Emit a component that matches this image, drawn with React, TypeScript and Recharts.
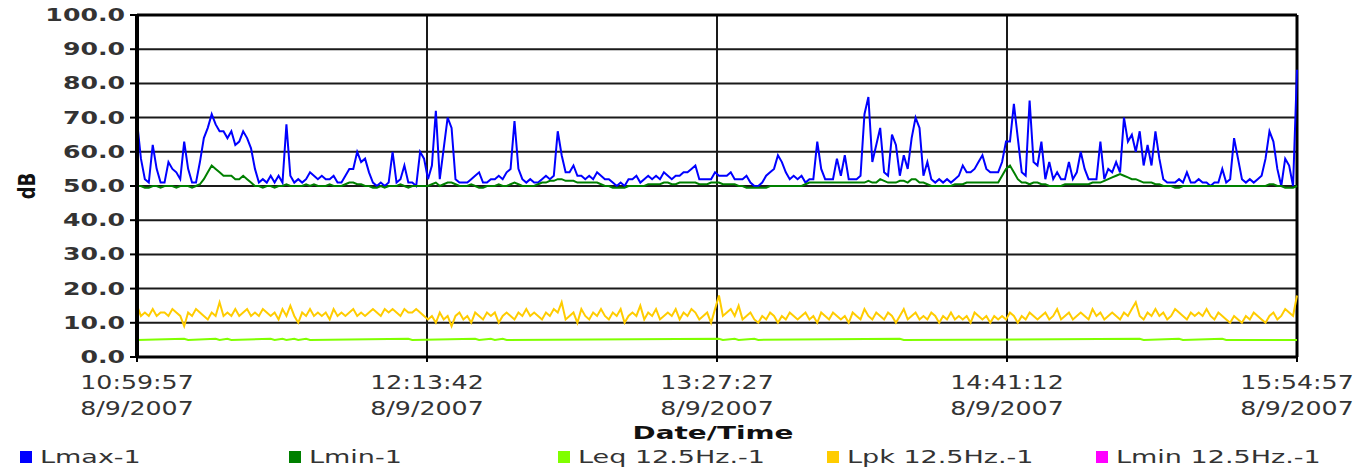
import React from "react";
import {
  LineChart,
  Line,
  XAxis,
  YAxis,
  CartesianGrid,
  Legend,
  ReferenceLine,
} from "recharts";

// time axis is in minutes from 10:59:57
const timeTicks = [0, 73.75, 147.5, 221.25, 295];
const timeLabels = ["10:59:57", "12:13:42", "13:27:27", "14:41:12", "15:54:57"];
const dateLabel = "8/9/2007";
const dbTicks = [0, 10, 20, 30, 40, 50, 60, 70, 80, 90, 100];

// Lmax-1, one value per minute
const lmax = [
  69, 58, 52, 51, 62, 55, 51, 51, 57, 55,
  54, 52, 63, 55, 51, 51, 57, 64, 67, 71,
  68, 66, 66, 64, 66, 62, 63, 66, 64, 61,
  55, 51, 52, 51, 53, 51, 53, 51, 68, 53,
  51, 52, 51, 52, 54, 53, 52, 53, 52, 52,
  53, 51, 51, 53, 55, 55, 60, 57, 58, 54,
  51, 50, 51, 50, 51, 60, 51, 52, 56, 51,
  51, 50, 60, 58,
  52, 56, 72, 52, 61, 70, 67, 52, 51, 51,
  51, 52, 53, 54, 51, 51, 52, 52, 53, 52,
  54, 55, 69, 55, 52, 51, 52, 51, 51, 52,
  53, 52, 53, 66, 59, 54, 54, 56, 53, 53,
  52, 53, 52, 54, 53, 52, 52, 51, 50, 51,
  50, 52, 52, 53, 51, 52, 53, 52, 53, 52,
  54, 53, 52, 53, 53, 54, 54, 55, 56, 52,
  52, 52, 52, 54,
  53, 53, 53, 54, 52, 52, 52, 53, 51, 50,
  50, 51, 53, 54, 55, 59, 57, 54, 52, 53,
  52, 53, 51, 52, 52, 63, 55, 52, 52, 52,
  58, 53, 59, 52, 52, 52, 53, 71, 76, 57,
  62, 67, 54, 53, 65, 62, 53, 59, 55, 64,
  70, 67, 53, 57, 52, 51, 52, 51, 52, 51,
  52, 53, 56, 54, 54, 55, 57, 59, 55, 54,
  54, 54, 57, 63,
  63, 74, 64, 54, 53, 75, 57, 56, 63, 52,
  57, 52, 54, 52, 52, 57, 52, 54, 60, 55,
  52, 52, 52, 63, 52, 55, 54, 57, 54, 70,
  63, 65, 60, 66, 56, 62, 56, 66, 58, 52,
  51, 51, 51, 52, 51, 54, 51, 51, 52, 51,
  51, 50, 51, 51, 55, 51, 52, 64, 58, 52,
  51, 52, 51, 52, 53, 58, 66, 63, 55, 50,
  58, 56, 50, 84,
];

// Lmin-1
const lmin = [
  50, 50, 49.5, 49.5, 50, 50, 49.5, 50, 50, 50,
  49.5, 50, 50, 50, 49.5, 50, 50.5, 52, 54, 56,
  55, 54, 53, 53, 53, 52, 52, 53, 52, 51,
  50, 50, 49.5, 50, 50, 49.5, 50, 50, 50.5, 50,
  50, 50, 50, 50.5, 50, 50.5, 50, 50, 50, 50.5,
  50, 50, 50, 50.5, 51, 51, 50.5, 50.5, 50, 50,
  49.5, 49.5, 50, 49.5, 50, 50, 50, 50.5, 50, 49.5,
  50, 50, 50, 50, 50, 50.5, 51, 50, 50.5, 51,
  51, 50.5, 50, 50, 50, 50.5, 50, 49.5, 49.5, 50,
  50, 50, 50.5, 50, 50, 50.5, 51, 50.5, 50, 50,
  50, 50, 50.5, 51, 51, 51.5, 51.5, 52, 52, 51.5,
  51.5, 51.5, 51, 51, 51, 51, 51, 51, 50.5, 50,
  50, 49.5, 49.5, 49.5, 49.5, 50, 50, 50, 50, 50,
  50.5, 50.5, 50.5, 50.5, 51, 51, 50.5, 50.5, 51, 51,
  51, 51, 51, 50.5, 50.5, 50.5, 51, 51, 51, 50.5,
  50.5, 50.5, 50.5, 50, 50, 49.5, 49.5, 49.5, 49.5, 49.5,
  49.5, 50, 50, 50, 50, 50, 50, 50, 50, 50,
  50.5, 51, 51, 51, 51, 51, 51, 51, 51, 51,
  51, 51, 51, 51, 51, 51, 51.5, 51, 51, 52,
  51.5, 51, 51, 51, 51.5, 51.5, 51, 52, 52, 51,
  51, 50.5, 50, 50, 50, 50, 50, 50, 50.5, 50.5,
  50.5, 51, 51, 51, 51, 51, 51, 51, 51, 51,
  53, 55, 56, 54, 52, 51, 51, 50.5, 51, 51,
  50.5, 50.5, 50, 50, 50, 50, 50.5, 50.5, 50.5, 50.5,
  50.5, 50.5, 50.5, 51, 51, 51, 51.5, 52, 52.5, 53,
  53.5, 53, 52.5, 52, 52, 51.5, 51, 51, 51, 50.5,
  50.5, 50, 50, 50, 49.5, 49.5, 50, 50, 50, 50,
  50, 50, 50, 50, 50, 50, 50, 50, 50, 50,
  50, 50, 50, 50, 50, 50, 50, 50, 50.5, 50.5,
  50, 50, 49.5, 49.5, 49.5, 50,
];

// Lpk 12.5Hz.-1
const lpk = [
  15, 12, 13, 12, 14, 12, 13, 13, 12, 14,
  13, 12, 9, 13, 12, 14, 13, 12, 11, 13,
  12, 16, 12, 13, 12, 14, 12, 13, 14, 12,
  13, 12, 14, 13, 12, 13, 11, 14, 12, 15,
  12, 10, 13, 12, 14, 12, 13, 12, 13, 11,
  14, 12, 13, 12, 13, 14, 12, 13, 12, 13,
  14, 13, 12, 14, 13, 14, 13, 12, 14, 13,
  13, 14, 13, 12, 11, 12, 10, 13, 11, 12,
  9, 12, 13, 11, 12, 10, 13, 12, 11, 13,
  12, 13, 10, 12, 13, 12, 11, 13, 12, 14,
  12, 13, 12, 11, 13, 12, 14, 13, 16, 11,
  12, 13, 10, 14, 12, 11, 13, 12, 14, 12,
  11, 13, 12, 14, 10, 12, 13, 12, 15, 11,
  13, 12, 14, 11, 12, 13, 12, 14, 11, 13,
  12, 14, 13, 11, 12, 13, 10, 14, 18, 12,
  13, 14, 12, 15, 11, 12, 13, 11, 10, 12,
  11, 13, 12, 10, 12, 11, 13, 12, 11, 12,
  13, 11, 12, 10, 13, 12, 11, 13, 12, 11,
  12, 10, 13, 12, 11, 14, 12, 11, 13, 12,
  11, 13, 12, 10, 12, 14, 11, 12, 13, 11,
  12, 11, 13, 12, 10, 12, 11, 13, 11, 12,
  11, 12, 10, 13, 12, 11, 12, 10, 12, 11,
  12, 11, 13, 12, 10, 12, 11, 13, 12, 11,
  12, 13, 11, 12, 14, 11, 12, 13, 11, 12,
  13, 12, 11, 14, 12, 13, 11, 12, 13, 12,
  11, 13, 12, 14, 16, 12, 11, 13, 12, 14,
  12, 13, 11, 12, 14, 13, 12, 11, 13, 12,
  13, 12, 14, 12, 11, 13, 12, 11, 10, 12,
  11, 10, 12, 11, 13, 12, 11, 10, 12, 13,
  11, 12, 14, 13, 12, 18,
];

// Leq 12.5Hz.-1 : [minute, dB], flat line with a few small bumps
const leqPoints = [
  [0, 5], [12, 5.3], [13, 5], [20, 5.3], [21, 5], [23, 5.3], [24, 5],
  [34, 5.3], [35, 5], [37, 5.3], [38, 5], [40, 5.3], [41, 5], [43, 5.3],
  [44, 5], [69, 5.3], [70, 5], [86, 5.3], [87, 5], [90, 5.3], [91, 5],
  [93, 5.3], [94, 5], [148, 5.3], [149, 5], [152, 5.3], [153, 5],
  [157, 5.3], [158, 5], [194, 5.3], [195, 5], [255, 5.3], [256, 5],
  [265, 5.3], [266, 5], [276, 5.3], [277, 5], [295, 5],
];

const series = [
  { key: "lmax", name: "Lmax-1", color: "#0000ff" },
  { key: "lmin", name: "Lmin-1", color: "#008000" },
  { key: "leq", name: "Leq 12.5Hz.-1", color: "#80ff00" },
  { key: "lpk", name: "Lpk 12.5Hz.-1", color: "#ffcc00" },
  { key: "lmin125", name: "Lmin 12.5Hz.-1", color: "#ff00ff" },
];

const leqMap = new Map(leqPoints.map(([t, v]) => [t, v]));

const rows = lmax.map((v, i) => ({
  t: i,
  lmax: v,
  lmin: lmin[i],
  lpk: lpk[i],
  leq: leqMap.has(i) ? leqMap.get(i) : null,
}));

const FONT = "'DejaVu Sans', Verdana, sans-serif";
const TEXT = "#333";

function YTick({ x, y, payload }: any) {
  return (
    <g transform={`translate(${x},${y})`}>
      <text
        transform="scale(1.4,1)"
        textAnchor="end"
        dy={6}
        fontFamily={FONT}
        fontSize={18}
        fontWeight="bold"
        fill={TEXT}
      >
        {Number(payload.value).toFixed(1)}
      </text>
    </g>
  );
}

function XTick({ x, y, payload }: any) {
  const idx = timeTicks.indexOf(payload.value);
  return (
    <g transform={`translate(${x},${y}) scale(1.33,1)`}>
      <text textAnchor="middle" y={25} fontFamily={FONT} fontSize={19} fill={TEXT}>
        {timeLabels[idx]}
      </text>
      <text textAnchor="middle" y={51} fontFamily={FONT} fontSize={19} fill={TEXT}>
        {dateLabel}
      </text>
    </g>
  );
}

function DbLabel({ viewBox }: any) {
  const cy = viewBox.y + viewBox.height / 2;
  return (
    <g transform={`translate(27,${cy}) scale(1.3,1) rotate(-90)`}>
      <text textAnchor="middle" dy={6} fontFamily={FONT} fontSize={18} fontWeight="bold" fill="#111">
        dB
      </text>
    </g>
  );
}

function TimeLabel({ viewBox }: any) {
  const cx = viewBox.x + viewBox.width / 2 - 4;
  return (
    <g transform={`translate(${cx},${viewBox.y + 82}) scale(1.55,1)`}>
      <text textAnchor="middle" fontFamily={FONT} fontSize={18} fontWeight="bold" fill="#111">
        Date/Time
      </text>
    </g>
  );
}

function LegendBox() {
  return (
    <div style={{ position: "relative", height: 28, width: 1356 }}>
      {series.map((s, i) => (
        <div
          key={s.key}
          style={{
            position: "absolute",
            left: 20 + i * 269,
            top: 11,
            display: "flex",
            alignItems: "center",
            whiteSpace: "nowrap",
          }}
        >
          <span style={{ width: 12, height: 12, background: s.color, display: "inline-block" }} />
          <span
            style={{
              marginLeft: 8,
              fontFamily: FONT,
              fontSize: 18,
              color: TEXT,
              transform: "scaleX(1.5)",
              transformOrigin: "left center",
              display: "inline-block",
              lineHeight: "18px",
            }}
          >
            {s.name}
          </span>
        </div>
      ))}
    </div>
  );
}

export default function App() {
  return (
    <div style={{ position: "absolute", left: 0, top: 0, width: 1356, height: 467, background: "#fff" }}>
      <LineChart
        width={1356}
        height={467}
        data={rows}
        margin={{ top: 15, right: 59, bottom: 2, left: 0 }}
      >
        <CartesianGrid stroke="#1a1a1a" strokeWidth={2} />
        <XAxis
          dataKey="t"
          type="number"
          domain={[0, 295]}
          ticks={timeTicks}
          interval={0}
          height={80}
          tick={<XTick />}
          tickSize={5}
          tickLine={{ stroke: "#000", strokeWidth: 2 }}
          axisLine={{ stroke: "#000", strokeWidth: 3 }}
          label={{ content: <TimeLabel /> }}
        />
        <YAxis
          type="number"
          domain={[0, 100]}
          ticks={dbTicks}
          interval={0}
          width={137}
          tick={<YTick />}
          tickSize={7}
          tickMargin={5}
          tickLine={{ stroke: "#000", strokeWidth: 2 }}
          axisLine={{ stroke: "#000", strokeWidth: 4 }}
          label={{ content: <DbLabel /> }}
        />
        <ReferenceLine y={100} stroke="#000" strokeWidth={3} />
        <ReferenceLine x={295} stroke="#000" strokeWidth={3} />
        <Legend
          verticalAlign="bottom"
          wrapperStyle={{ left: 0, width: 1356 }}
          content={() => <LegendBox />}
        />
        <Line dataKey="lpk" name="Lpk 12.5Hz.-1" stroke="#ffcc00" strokeWidth={2} dot={false} isAnimationActive={false} />
        <Line dataKey="leq" name="Leq 12.5Hz.-1" stroke="#80ff00" strokeWidth={2} dot={false} connectNulls isAnimationActive={false} />
        <Line dataKey="lmin125" name="Lmin 12.5Hz.-1" stroke="#ff00ff" strokeWidth={2} dot={false} isAnimationActive={false} />
        <Line dataKey="lmax" name="Lmax-1" stroke="#0000ff" strokeWidth={2} dot={false} isAnimationActive={false} />
        <Line dataKey="lmin" name="Lmin-1" stroke="#008000" strokeWidth={2} dot={false} isAnimationActive={false} />
      </LineChart>
    </div>
  );
}
